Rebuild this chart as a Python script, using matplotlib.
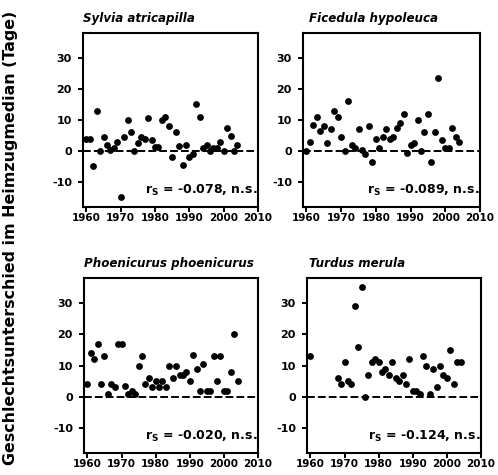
import matplotlib
matplotlib.use("Agg")
import matplotlib.pyplot as plt

plt.rcParams['font.family'] = ['DejaVu Sans']
plt.rcParams['font.weight'] = 'bold'
plt.rcParams['mathtext.fontset'] = 'dejavusans'
plt.rcParams['axes.unicode_minus'] = False

# years 1960..2004
years = list(range(1960, 2005))

# Sylvia atricapilla
sylvia = [4, 4, -4.7, 13, 0, 4.5, 2, 0.5, 1, 3,
          -14.7, 4.5, 10, 6, 0, 2.7, 4.5, 4, 10.5, 3.5,
          1.2, 1.2, 10, 11, 8, -2, 6, 1.5, -4.5, 2,
          -2, -1, 15, 11, 1, 2, 0, 1, 1, 3,
          0, 7.5, 5, 0, 2]

# Ficedula hypoleuca
ficedula = [0, 3, 8.5, 11, 6.5, 8, 2.5, 7, 13, 11,
            4.5, 0, 16, 2, 1, 7, 0.5, -1, 8, -3.5,
            4, 1, 4.5, 7, 4, 4.5, 7.5, 9, 12, -0.5,
            2, 2.5, 10, 0, 6, 12, -3.5, 6, 23.5, 3.5,
            1, 1, 7.5, 4.5, 3]

# Phoenicurus phoenicurus
phoenicurus = [4, 14, 12, 17, 4, 13, 1, 4, 3, 17,
               17, 3.5, 1, 2, 1, 10, 13, 4, 6, 3,
               5, 3, 5, 3, 10, 6, 10, 7, 7, 8,
               5, 13.5, 9, 2, 10.5, 2, 2, 13, 5, 13,
               2, 2, 8, 20, 5]

# Turdus merula (no data 1961-1967)
turdus_years = [1960] + list(range(1968, 2005))
turdus = [13, 6, 4, 11, 5, 4, 29, 16, 35, 0,
          7, 11, 12, 11, 8, 9, 7, 11, 6, 5,
          7, 4, 12, 2, 2, 1, 13, 10, 1, 9,
          3, 10, 7, 6, 15, 4, 11, 11]

titles = ["Sylvia atricapilla", "Ficedula hypoleuca",
          "Phoenicurus phoenicurus", "Turdus merula"]
rs_labels = ["-0.078", "-0.089", "-0.020", "-0.124"]
xs = [years, years, years, turdus_years]
ys = [sylvia, ficedula, phoenicurus, turdus]

W, H = 498, 475
fig = plt.figure(figsize=(W / 100, H / 100), dpi=100)

# axes boxes in pixels: left, top, right, bottom
boxes = [(83, 33, 258, 207), (303, 33, 480, 207),
         (84, 278, 258, 453), (307, 278, 481, 453)]
title_dx = [0, 6, 0, 2]

for i in range(4):
    l, t, r, b = boxes[i]
    ax = fig.add_axes([l / W, 1 - b / H, (r - l) / W, (b - t) / H])
    ax.scatter(xs[i], ys[i], s=24, color='black', zorder=3, linewidths=0)
    ax.axhline(0, color='black', lw=1.4, ls=(0, (4, 1.6)), zorder=2)
    ax.set_xlim(1959, 2010)
    ax.set_ylim(-18, 38)
    ax.set_xticks(range(1960, 2011, 10))
    ax.set_yticks([-10, 0, 10, 20, 30])
    for sp in ax.spines.values():
        sp.set_linewidth(1.5)
    ax.tick_params(direction='out', length=3.5, width=1.4, top=False, right=False)
    ax.tick_params(axis='x', labelsize=7.5, pad=1)
    ax.tick_params(axis='y', labelsize=8, pad=4.5)
    for lab in ax.get_xticklabels() + ax.get_yticklabels():
        lab.set_fontweight('bold')
    ax.text(title_dx[i] / (r - l), 1.045, titles[i], transform=ax.transAxes,
            fontsize=8.6, fontweight='bold', style='italic', ha='left', va='bottom')
    ax.text(0.995, 0.05, r'$\mathbf{r_S}$ = ' + rs_labels[i] + ', n.s.',
            transform=ax.transAxes, fontsize=9, fontweight='bold',
            ha='right', va='bottom')

fig.text(0.021, 0.5, "Geschlechtsunterschied im Heimzugmedian (Tage)",
         rotation=90, ha='center', va='center', fontsize=11.4, fontweight='bold')

fig.savefig("out.png", dpi=100)
